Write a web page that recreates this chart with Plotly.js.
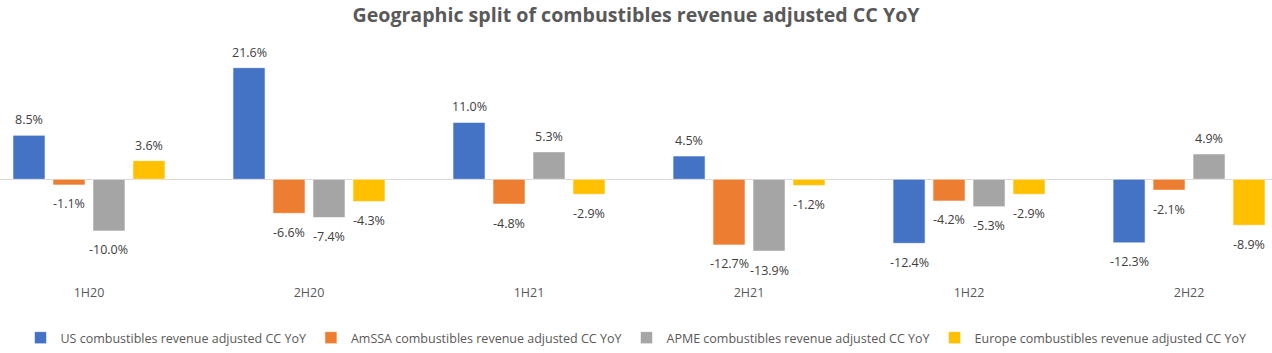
<!DOCTYPE html>
<html>
<head>
<meta charset="utf-8">
<script src="https://cdn.plot.ly/plotly-3.0.1.min.js"></script>
<style>html,body{margin:0;padding:0;background:#fff;}#chart{width:1272px;height:353px;}</style>
</head>
<body>
<div id="chart"></div>
<script>
const categories = ["1H20", "2H20", "1H21", "2H21", "1H22", "2H22"];
const seriesNames = [
  "US combustibles revenue adjusted CC YoY",
  "AmSSA combustibles revenue adjusted CC YoY",
  "APME combustibles revenue adjusted CC YoY",
  "Europe combustibles revenue adjusted CC YoY"
];
const usValues = [8.5, 21.6, 11.0, 4.5, -12.4, -12.3];
const amssaValues = [-1.1, -6.6, -4.8, -12.7, -4.2, -2.1];
const apmeValues = [-10.0, -7.4, 5.3, -13.9, -5.3, 4.9];
const europeValues = [3.6, -4.3, -2.9, -1.2, -2.9, -8.9];
const colors = ["#4472C4", "#ED7D31", "#A5A5A5", "#FFC000"];

const W = 1272, H = 353;
const xRange = [-0.4045, 5.377];
const bargap = 0.273;
const allValues = [usValues, amssaValues, apmeValues, europeValues];
const nSeries = allValues.length;
const pxPerCat = W / (xRange[1] - xRange[0]);
const slotPx = pxPerCat * (1 - bargap) / nSeries;

const traces = allValues.map((vals, i) => ({
  type: "bar",
  name: seriesNames[i],
  x: categories,
  y: vals,
  marker: { color: colors[i], line: { color: "rgba(255,255,255,0.55)", width: 1 } },
  hoverinfo: "skip"
}));

const labelFont = { family: "Open Sans, Liberation Sans, sans-serif", size: 12.5, color: "#404040" };
const annotations = [];
allValues.forEach((vals, i) => {
  vals.forEach((v, j) => {
    annotations.push({
      x: categories[j], y: v, xref: "x", yref: "y",
      text: v.toFixed(1) + "%",
      showarrow: false,
      xanchor: "center", yanchor: "middle",
      xshift: (i - (nSeries - 1) / 2) * slotPx,
      yshift: v >= 0 ? 15.5 : -19,
      font: labelFont
    });
  });
});

const layout = {
  width: W,
  height: H,
  margin: { l: 0, r: 0, t: 40, b: 67 },
  paper_bgcolor: "#fff",
  plot_bgcolor: "#fff",
  title: {
    text: "<b>Geographic split of combustibles revenue adjusted CC YoY</b>",
    x: 0.5, xanchor: "center", y: 0.958, yanchor: "middle",
    font: { family: "Open Sans, Lato, sans-serif", size: 19.6, color: "#595959" }
  },
  barmode: "group",
  bargap: bargap,
  bargroupgap: 0.2,
  showlegend: true,
  legend: {
    orientation: "h", x: 0.5, xanchor: "center", y: -0.228, yanchor: "middle",
    font: { family: "Open Sans, Liberation Sans, sans-serif", size: 12.5, color: "#595959" },
    itemwidth: 30, traceorder: "normal"
  },
  annotations: annotations,
  xaxis: {
    type: "category",
    range: xRange,
    showgrid: false, zeroline: false, showline: false, ticks: "",
    tickfont: { family: "Open Sans, Liberation Sans, sans-serif", size: 12.5, color: "#595959" },
    fixedrange: true
  },
  yaxis: {
    range: [-20.08, 26.96],
    showgrid: false, zeroline: true, zerolinecolor: "#D9D9D9", zerolinewidth: 1,
    showticklabels: false, ticks: "", showline: false, fixedrange: true
  }
};

Plotly.newPlot("chart", traces, layout, { displayModeBar: false, staticPlot: true });
</script>
</body>
</html>
